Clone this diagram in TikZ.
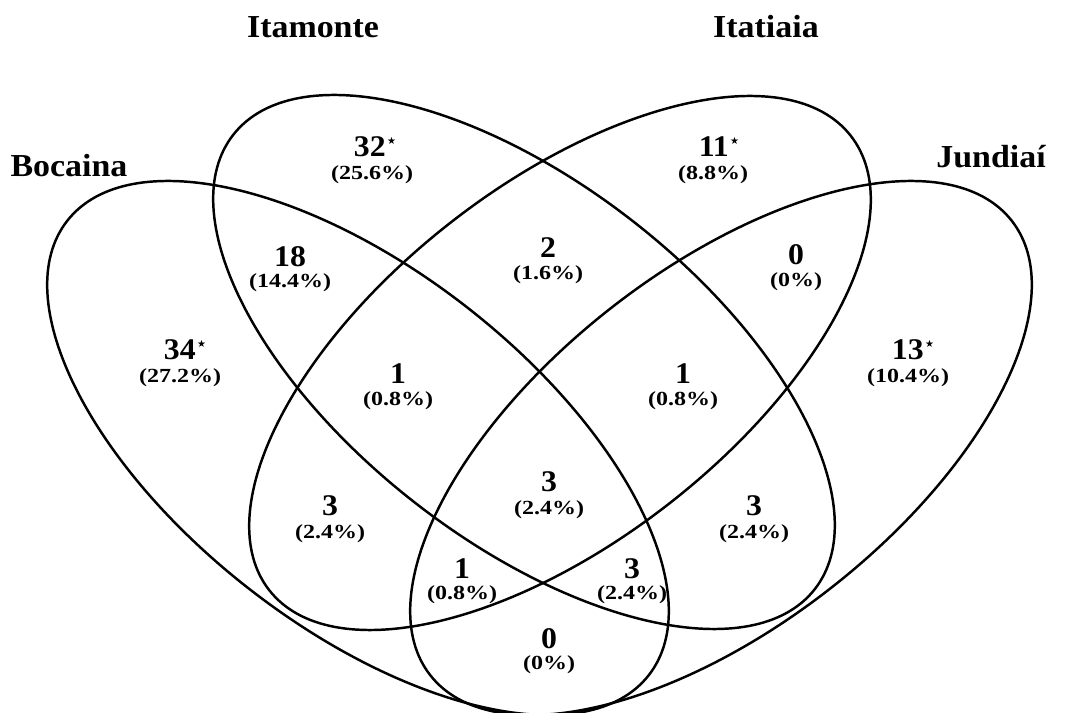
\documentclass[tikz,border=0pt]{standalone}
\usepackage{fontspec}
\setmainfont{Liberation Serif}
\newfontfamily\starfont{DejaVu Sans}
\newcommand{\pctxt}[1]{\scalebox{1.2}[1]{#1}}
\newcommand{\numtxt}[1]{\scalebox{1.06}[1]{#1}}
\newcommand{\stmark}{\kern1pt\raisebox{9.5pt}{\starfont\fontsize{7.5}{7.5}\selectfont ★}}
\begin{document}
\begin{tikzpicture}[x=0.75pt,y=0.75pt,
  venn/.style={draw=black,line width=1.85pt},
  ttl/.style={anchor=base,inner sep=0pt,font=\bfseries\fontsize{24}{24}\selectfont},
  num/.style={anchor=base,inner sep=0pt,font=\bfseries\fontsize{22.5}{22.5}\selectfont},
  pct/.style={anchor=base,inner sep=0pt,font=\bfseries\fontsize{15}{15}\selectfont}]
\useasboundingbox (0,0) rectangle (1068,713);
% ellipses
\draw[venn,rotate around={-38:(358,265)}] (358,265) ellipse [x radius=276.75pt,y radius=133.5pt];
\draw[venn,rotate around={-38:(524,351)}] (524,351) ellipse [x radius=276.75pt,y radius=133.5pt];
\draw[venn,rotate around={38:(560,350)}] (560,350) ellipse [x radius=276.75pt,y radius=133.5pt];
\draw[venn,rotate around={38:(721,265)}] (721,265) ellipse [x radius=276.75pt,y radius=133.5pt];
% titles
\node[ttl] (tBoc) at (69,536) {\numtxt{Bocaina}};
\node[ttl] (tIta) at (313,675) {\numtxt{Itamonte}};
\node[ttl] (tItt) at (766,675) {\numtxt{Itatiaia}};
\node[ttl] (tJun) at (991,545) {\numtxt{Jundiaí}};
% counts
\node[num] (n32) at (375,556) {\numtxt{32}\stmark};
\node[pct] (p32) at (372,533) {\pctxt{(25.6\%)}};
\node[num] (n18) at (290,446) {\numtxt{18}};
\node[pct] (p18) at (290,425) {\pctxt{(14.4\%)}};
\node[num] (n34) at (185,353) {\numtxt{34}\stmark};
\node[pct] (p34) at (180,330) {\pctxt{(27.2\%)}};
\node[num] (n2) at (548,455) {\numtxt{2}};
\node[pct] (p2) at (548,433) {\pctxt{(1.6\%)}};
\node[num] (n11) at (719,556) {\numtxt{11}\stmark};
\node[pct] (p11) at (713,533) {\pctxt{(8.8\%)}};
\node[num] (n0a) at (796,448) {\numtxt{0}};
\node[pct] (p0a) at (796,426) {\pctxt{(0\%)}};
\node[num] (n13) at (913,353) {\numtxt{13}\stmark};
\node[pct] (p13) at (908,330) {\pctxt{(10.4\%)}};
\node[num] (n1a) at (398,329) {\numtxt{1}};
\node[pct] (p1a) at (398,307) {\pctxt{(0.8\%)}};
\node[num] (n1b) at (683,329) {\numtxt{1}};
\node[pct] (p1b) at (683,307) {\pctxt{(0.8\%)}};
\node[num] (n3a) at (330,197) {\numtxt{3}};
\node[pct] (p3a) at (330,174) {\pctxt{(2.4\%)}};
\node[num] (n3c) at (549,221) {\numtxt{3}};
\node[pct] (p3c) at (549,198) {\pctxt{(2.4\%)}};
\node[num] (n3b) at (754,197) {\numtxt{3}};
\node[pct] (p3b) at (754,174) {\pctxt{(2.4\%)}};
\node[num] (n1c) at (462,134) {\numtxt{1}};
\node[pct] (p1c) at (462,113) {\pctxt{(0.8\%)}};
\node[num] (n3d) at (632,134) {\numtxt{3}};
\node[pct] (p3d) at (632,113) {\pctxt{(2.4\%)}};
\node[num] (n0b) at (549,64) {\numtxt{0}};
\node[pct] (p0b) at (549,43) {\pctxt{(0\%)}};
\end{tikzpicture}
\end{document}
